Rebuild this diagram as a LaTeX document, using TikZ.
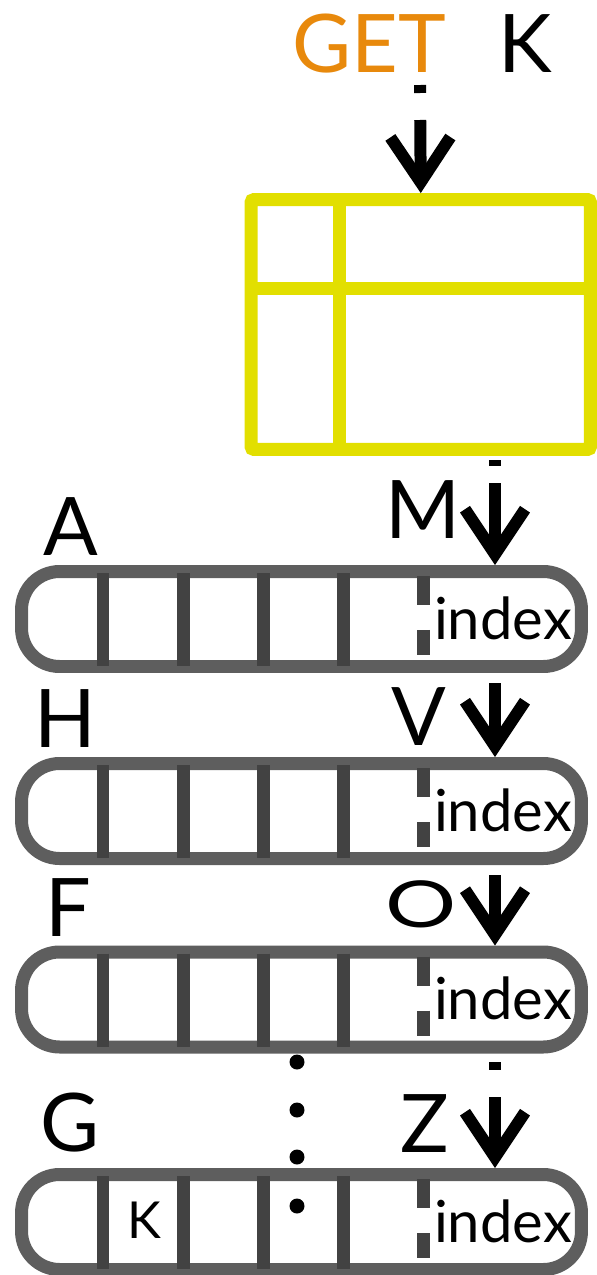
\documentclass[tikz,border=0pt]{standalone}
\usepackage{fontspec}
\setmainfont{Lato}
\usepackage{graphicx}
\usetikzlibrary{arrows.meta}
\definecolor{tableyellow}{HTML}{E2DF00}
\definecolor{getorange}{HTML}{E8890C}
\definecolor{rimgray}{HTML}{5E5E5E}
\definecolor{slotgray}{HTML}{424242}

\begin{document}
\begin{tikzpicture}
  [x=0.02cm,y=-0.02cm,
   letter/.style={font=\fontsize{46}{50}\selectfont,anchor=base,inner sep=0pt},
   idx/.style={font=\fontsize{33}{36}\selectfont,anchor=base,inner sep=0pt},
   bucket/.style={draw=rimgray,line width=0.26cm,rounded corners=0.76cm,
     minimum width=11.2cm,minimum height=1.9cm,inner sep=0pt},
   slot/.style={slotgray,line width=0.26cm},
   split/.style={slotgray,line width=0.26cm,dash pattern=on 0.58cm off 0.5cm},
   flow/.style={line width=0.24cm,-{Straight Barb[length=0.9cm,width=1.2cm]}},
   gap/.style={dash pattern=on #1 off 0.54cm on 10cm}]
  \useasboundingbox (0,0) rectangle (597,1275);

  \node[letter,getorange] (get) at (369,72) {GET};
  \node[letter] (key) at (525,72) {K};

  % lookup table
  \node[draw=tableyellow,line width=0.26cm,rounded corners=0.06cm,
    minimum width=6.79cm,minimum height=5cm,inner sep=0pt] (table) at (420.75,324.5) {};
  \draw[tableyellow,line width=0.26cm] (339,199.5) -- (339,449.5) (251,288) -- (590.5,288);

  % buckets
  \foreach \nm/\yc in {rowA/619,rowH/811,rowF/999.5,rowG/1222} {
    \node[bucket] (\nm) at (301.5,\yc) {};
    \foreach \x in {103,183,263,343}
      \draw[slot] (\x,\yc-46) -- (\x,\yc+47);
    \draw[split] (423,\yc-43) -- (423,\yc+36);
    \node[idx] (\nm-idx) at (503,\yc+20) {index};
  }

  \node[letter] (lblA) at (71,555) {A};
  \node[letter] (lblM) at (423,538) {M};
  \node[letter] (lblH) at (65,747) {H};
  \node[letter] (lblV) at (419,745) {V};
  \node[letter] (lblF) at (68,936) {F};
  \node[letter] (lblO) at (421,927) {\scalebox{1.1}[0.8]{O}};
  \node[letter] (lblG) at (70,1151) {G};
  \node[letter] (lblZ) at (425,1152) {Z};
  \node[idx,font=\fontsize{29}{32}\selectfont] (inK) at (144,1238) {K};

  \foreach \y in {1062,1110,1157,1206}
    \fill (297,\y) circle (0.15cm);

  \coordinate (tap0) at (420,85);
  \coordinate (tap1) at (495,460);
  \coordinate (tap2) at (495,683);
  \coordinate (tap3) at (495,875);
  \coordinate (tap4) at (495,1062);
  \draw[flow,gap=0.16cm] (tap0) -- (table.north);
  \draw[flow,dash pattern=on 0.12cm off 0.34cm on 10cm] (tap1) -- (rowA.north -| tap1);
  \draw[flow] (tap2) -- (rowH.north -| tap2);
  \draw[flow] (tap3) -- (rowF.north -| tap3);
  \draw[flow,gap=0.16cm] (tap4) -- (rowG.north -| tap4);
\end{tikzpicture}
\end{document}
